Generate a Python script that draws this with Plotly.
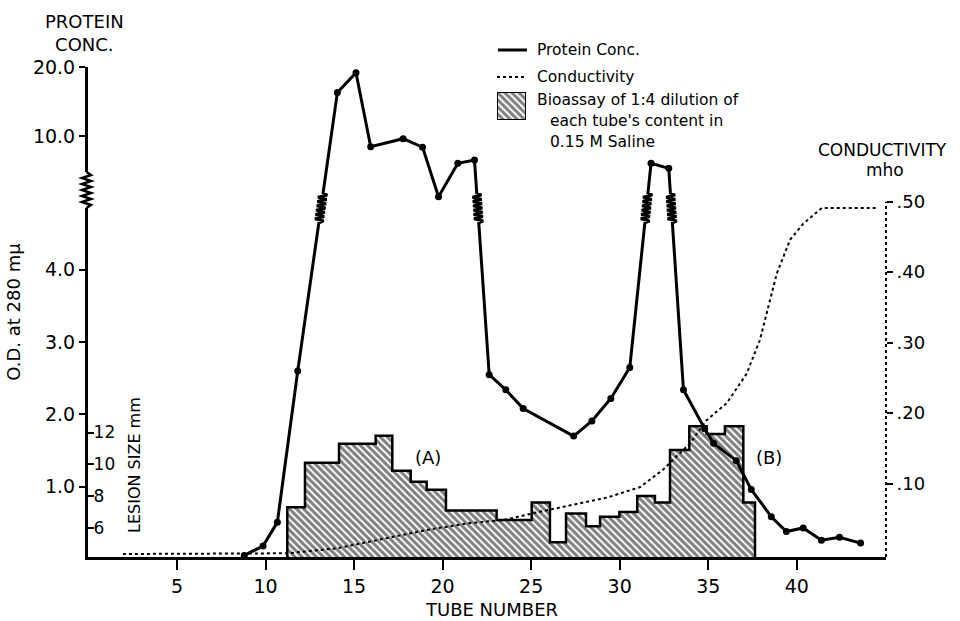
import numpy as np
import plotly.graph_objects as go

# ---------------- data ----------------
tube_protein = [8.8, 9.86, 10.67, 11.82, 14.06, 15.11, 15.94, 17.77, 18.87, 19.77,
                20.86, 21.8, 22.63, 23.57, 24.55, 27.4, 28.43, 29.5, 30.57, 31.77,
                32.77, 33.6, 34.8, 35.3, 36.58, 37.43, 38.56, 39.41, 40.36, 41.39,
                42.41, 43.6]
od_protein = [0.05, 0.18, 0.51, 2.60, 15.5, 18.9, 8.98, 9.73, 8.93, 5.43,
              7.6, 7.85, 2.55, 2.34, 2.08, 1.70, 1.91, 2.22, 2.65, 7.6,
              7.22, 2.34, 1.80, 1.60, 1.36, 0.96, 0.585, 0.38, 0.43, 0.26,
              0.30, 0.22]

tube_cond = [1.95, 11.23, 14.02, 16.84, 19.1, 21.55, 23.41, 25.5, 27.38, 29.27,
             31.16, 32.46, 33.97, 34.91, 36.04, 37.17, 37.92, 38.48, 38.87, 39.62,
             40.37, 41.41, 44.51]
cond_mho = [0.0, 0.001, 0.008, 0.022, 0.034, 0.044, 0.048, 0.060, 0.070, 0.080,
            0.095, 0.12, 0.157, 0.19, 0.214, 0.256, 0.304, 0.36, 0.398, 0.446,
            0.469, 0.491, 0.491]

bioassay_edges = [11.23, 12.23, 14.15, 16.22, 17.16, 18.2, 19.1, 20.19, 23.05, 25.03,
                  26.06, 26.97, 28.1, 28.89, 29.98, 30.99, 31.99, 32.84, 33.93, 34.91,
                  35.94, 36.98, 37.64]
lesion_mm = [7.3, 10.1, 11.3, 11.8, 9.6, 8.9, 8.4, 7.1, 6.5, 7.6,
             5.1, 6.9, 6.1, 6.7, 7.0, 8.0, 7.6, 10.9, 12.4, 11.9,
             12.4, 7.6]

x_tick_values = [5, 10, 15, 20, 25, 30, 35, 40]
od_tick_values = [20.0, 10.0, 4.0, 3.0, 2.0, 1.0]
od_tick_text = ["20.0", "10.0", "4.0", "3.0", "2.0", "1.0"]
lesion_tick_values = [6, 8, 10, 12]
cond_tick_values = [0.10, 0.20, 0.30, 0.40, 0.50]
cond_tick_text = [".10", ".20", ".30", ".40", ".50"]

# ---------------- geometry (screen pixels of the reference) ----------------
L, R, T, B = 88, 886, 67, 557
W, H = R - L, B - T
FONT = "DejaVu Sans"


def PX(x):
    return (x - L) / W


def PY(y):
    return (B - y) / H


# broken O.D. scale: linear below the break, logarithmic above it
BREAK = 5.0
OD_PX = 72.3  # pixels per O.D. unit on the lower (linear) part


def od_disp(v):
    return v if v < BREAK else 5.851 + 3.167 * np.log10(v / 10.0)


od_range = [(559 - B) / OD_PX, (559 - T) / OD_PX]
lesion_range = [12 - (B - 432.5) / 15.9, 12 + (432.5 - T) / 15.9]
cond_range = [(554 - B) / 704.6, (554 - T) / 704.6]
x_range = [(L - 88.4) / 17.71, (R - 88.4) / 17.71]

# protein line path, with zig-zag "break" symbols where it crosses the scale break
SQ_C = (559 - 208) / OD_PX
SQ_H = 15 / OD_PX
AMP = 4.5 / 17.71
NZ = 7
dvals = [od_disp(v) for v in od_protein]
line_x, line_y = [], []
for i in range(len(tube_protein)):
    if i > 0 and ((od_protein[i - 1] < BREAK) != (od_protein[i] < BREAK)):
        a, b = dvals[i - 1], dvals[i]
        x0, x1 = tube_protein[i - 1], tube_protein[i]

        def xat(dd):
            return x0 + (x1 - x0) * (dd - a) / (b - a)

        start = SQ_C - SQ_H if b > a else SQ_C + SQ_H
        end = SQ_C + SQ_H if b > a else SQ_C - SQ_H
        line_x.append(xat(start)); line_y.append(start)
        for k in range(1, 2 * NZ):
            dd = start + (end - start) * k / (2 * NZ)
            sgn = 1 if k % 2 else -1
            line_x.append(xat(dd) + sgn * AMP); line_y.append(dd)
        line_x.append(xat(end)); line_y.append(end)
    line_x.append(tube_protein[i]); line_y.append(dvals[i])

# bioassay step outline
bx = [bioassay_edges[0]] + bioassay_edges[:-1] + [bioassay_edges[-1], bioassay_edges[-1]]
by = [0] + lesion_mm + [lesion_mm[-1], 0]

HATCH = dict(shape="\\", fgcolor="black", bgcolor="white", size=5, solidity=0.6)

fig = go.Figure()

fig.add_trace(go.Scatter(
    x=bx, y=by, mode="lines", line=dict(color="black", width=2.5, shape="hv"),
    fill="tozeroy", fillcolor="white", fillpattern=HATCH,
    xaxis="x", yaxis="y", showlegend=False, hoverinfo="skip"))

fig.add_trace(go.Scatter(
    x=tube_cond, y=cond_mho, mode="lines",
    line=dict(color="black", width=2, dash="dot"),
    xaxis="x", yaxis="y2", showlegend=False))

fig.add_trace(go.Scatter(
    x=line_x, y=line_y, mode="lines", line=dict(color="black", width=3),
    xaxis="x", yaxis="y3", showlegend=False, hoverinfo="skip"))
fig.add_trace(go.Scatter(
    x=tube_protein, y=dvals, mode="markers",
    marker=dict(color="black", size=7),
    xaxis="x", yaxis="y3", showlegend=False))

# hatched legend swatch (tiny inset axes)
fig.add_trace(go.Bar(
    x=[0], y=[1], width=[1], xaxis="x2", yaxis="y4",
    marker=dict(color="white", line=dict(color="black", width=2), pattern=HATCH),
    showlegend=False, hoverinfo="skip"))

fig.update_layout(
    width=960, height=621,
    margin=dict(l=L, r=960 - R, t=T, b=621 - B, autoexpand=False),
    paper_bgcolor="white", plot_bgcolor="white",
    font=dict(family=FONT, color="black"),
    xaxis=dict(range=x_range, tickvals=x_tick_values, ticks="outside", ticklen=10,
               tickwidth=2, tickcolor="black", showline=True, linewidth=3, linecolor="black",
               showgrid=False, zeroline=False, ticklabelstandoff=0, automargin=False,
               tickfont=dict(family=FONT, size=19, color="black")),
    yaxis=dict(range=lesion_range, tickvals=lesion_tick_values, ticks="inside",
               ticklen=6, tickwidth=2, tickcolor="black", ticklabelposition="inside",
               showline=False, showgrid=False, zeroline=False, automargin=False,
               tickfont=dict(family=FONT, size=17, color="black")),
    yaxis2=dict(range=cond_range, overlaying="y", side="right", anchor="x",
                tickvals=cond_tick_values, ticktext=cond_tick_text, ticks="outside",
                ticklen=6, tickwidth=2, tickcolor="black", showline=False, showgrid=False,
                zeroline=False, automargin=False,
                tickfont=dict(family=FONT, size=18, color="black")),
    yaxis3=dict(range=od_range, overlaying="y", side="left", anchor="x",
                tickvals=[od_disp(v) for v in od_tick_values], ticktext=od_tick_text,
                ticks="outside", ticklen=6, tickwidth=2, tickcolor="black",
                showline=True, linewidth=3, linecolor="black", showgrid=False, zeroline=False,
                automargin=False, tickfont=dict(family=FONT, size=19, color="black"),
                title=dict(text="O.D. at 280 mμ", font=dict(family=FONT, size=18, color="black"),
                           standoff=8)),
    xaxis2=dict(domain=[PX(497), PX(526)], range=[-0.5, 0.5], anchor="y4", visible=False,
                automargin=False),
    yaxis4=dict(domain=[PY(120), PY(92)], range=[0, 1], anchor="x2", visible=False,
                automargin=False),
    bargap=0,
)

shapes = []
# conductivity axis (dotted) up to .50
shapes.append(dict(type="line", xref="paper", yref="y2", x0=1, x1=1,
                   y0=cond_range[0], y1=0.50, line=dict(color="black", width=2, dash="dot")))
# scale-break symbol on the O.D. axis
yb = (559 - 190) / OD_PX
shapes.append(dict(type="rect", xref="paper", yref="y3", xsizemode="pixel", ysizemode="pixel",
                   xanchor=0, yanchor=yb, x0=-4, x1=2, y0=-18, y1=18,
                   fillcolor="white", line=dict(width=0)))
zz = "M-1.5,-18"
for k in range(1, 12):
    zz += " L%.1f,%.1f" % (-1.5 + (4.5 if k % 2 else -4.5), -18 + 36 * k / 12)
zz += " L-1.5,18"
shapes.append(dict(type="path", xref="paper", yref="y3", xsizemode="pixel", ysizemode="pixel",
                   xanchor=0, yanchor=yb, path=zz, line=dict(color="black", width=2.5)))
# legend line samples
shapes.append(dict(type="line", xref="paper", yref="paper", x0=PX(498), x1=PX(527),
                   y0=PY(50), y1=PY(50), line=dict(color="black", width=3)))
shapes.append(dict(type="line", xref="paper", yref="paper", x0=PX(497), x1=PX(526),
                   y0=PY(77), y1=PY(77), line=dict(color="black", width=2, dash="dot")))
fig.update_layout(shapes=shapes)


def ann(text, x, y, size, xanchor="center", angle=0):
    fig.add_annotation(text=text, x=PX(x), y=PY(y), xref="paper", yref="paper",
                       xanchor=xanchor, yanchor="middle", showarrow=False, textangle=angle,
                       font=dict(family=FONT, size=size, color="black"))


ann("TUBE NUMBER", 491, 609, 18)
ann("PROTEIN<br>CONC.", 84, 33, 18)
ann("LESION SIZE mm", 134, 465, 16, angle=-90)
ann("CONDUCTIVITY", 882, 150, 17)
ann("mho", 885, 170, 17)
ann("(A)", 428, 457, 18)
ann("(B)", 769, 457, 18)
ann("Protein Conc.", 535, 50, 15.5, xanchor="left")
ann("Conductivity", 535, 77, 15.5, xanchor="left")
ann("Bioassay of 1:4 dilution of", 535, 100, 15.5, xanchor="left")
ann("each tube's content in", 548, 121, 15.5, xanchor="left")
ann("0.15 M Saline", 548, 142, 15.5, xanchor="left")

# make the page exactly the size of the figure (no default body margin, no overflow)
PAGE_CSS = ("html,body{margin:0;padding:0;overflow:hidden;width:960px;height:621px;}"
            "body>div{height:621px;overflow:hidden;line-height:0;}")
post = ("var s=document.createElement('style');s.textContent='%s';"
        "document.head.appendChild(s);" % PAGE_CSS)
fig.write_html("out.html", config={"displayModeBar": False}, post_script=post)
